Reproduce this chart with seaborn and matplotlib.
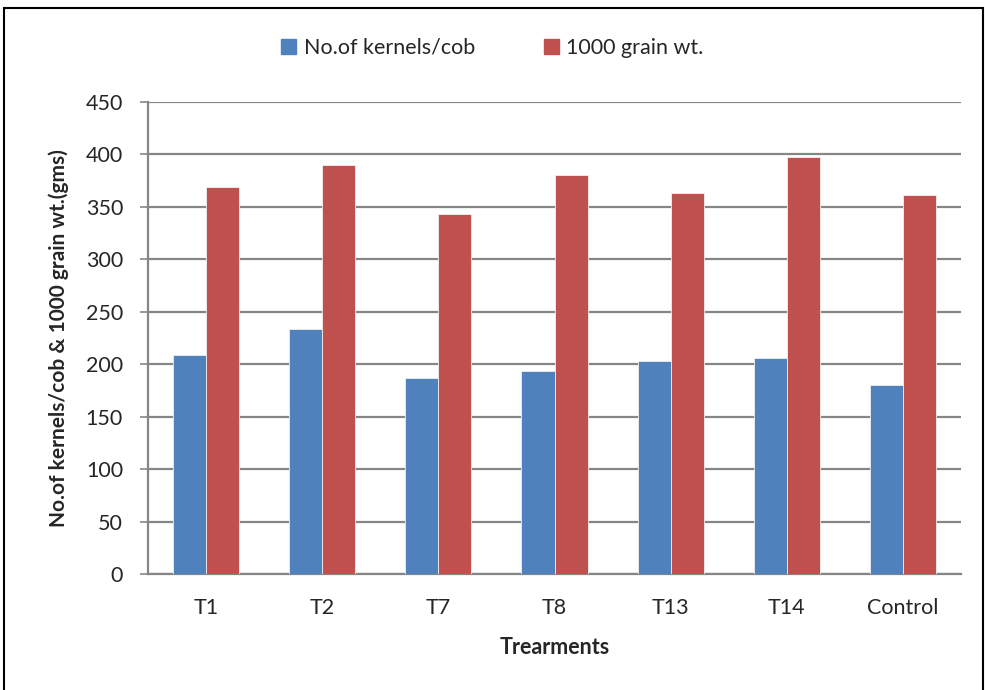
import matplotlib
matplotlib.use("Agg")
import matplotlib.pyplot as plt
import matplotlib.patches as mpatches
import pandas as pd
import seaborn as sns

treatments = ["T1", "T2", "T7", "T8", "T13", "T14", "Control"]
kernels_per_cob = [209, 234, 187, 194, 203, 206, 180]
grain_wt_1000 = [369, 390, 343, 380, 363, 398, 361]
series_names = ["No.of kernels/cob", "1000 grain wt."]
colors = ["#4F81BD", "#C0504D"]
y_ticks = [0, 50, 100, 150, 200, 250, 300, 350, 400, 450]

df = pd.DataFrame({
    "Treatment": treatments * 2,
    "Series": [series_names[0]] * len(treatments) + [series_names[1]] * len(treatments),
    "Value": kernels_per_cob + grain_wt_1000,
})

sns.set_theme(style="white")
plt.rcParams["font.family"] = ["Lato", "DejaVu Sans"]

fig = plt.figure(figsize=(9.85, 6.9), dpi=100)
ax = fig.add_axes([148 / 985, 1 - 574 / 690, (961 - 148) / 985, (574 - 102) / 690])

sns.barplot(data=df, x="Treatment", y="Value", hue="Series", order=treatments,
            hue_order=series_names, palette=colors, width=0.57, gap=0,
            edgecolor="#f0f0f0", linewidth=0.6, saturation=1, ax=ax, zorder=3)

ax.set_ylim(0, 450)
ax.set_xlim(-0.5, len(treatments) - 0.5)
ax.set_yticks(y_ticks)
ax.set_yticklabels([str(v) for v in y_ticks], fontsize=15.5)
ax.yaxis.grid(True, color="#868686", linewidth=1.6, zorder=0)
ax.set_axisbelow(True)

# category boundary ticks on the x axis
ax.set_xticks(range(len(treatments)))
ax.set_xticklabels(treatments, fontsize=15.5)
ax.tick_params(axis="x", length=0, pad=17)
ax.set_xticks([i - 0.5 for i in range(len(treatments) + 1)], minor=True)
ax.tick_params(axis="x", which="minor", length=8, width=1.2, color="#868686", direction="out")
ax.tick_params(axis="y", length=6, width=1.2, color="#868686", direction="out", pad=12, left=True)

for side in ["top", "right"]:
    ax.spines[side].set_visible(False)
for side in ["left", "bottom"]:
    ax.spines[side].set_color("#868686")
    ax.spines[side].set_linewidth(1.6)

ax.set_xlabel("Trearments", fontsize=15.5, fontweight="bold", labelpad=14)
ax.set_ylabel("No.of kernels/cob & 1000 grain wt.(gms)", fontsize=15, fontweight="bold", labelpad=12)

ax.legend_.remove()
handles = [mpatches.Patch(color=c, label=n) for c, n in zip(colors, series_names)]
fig.legend(handles=handles, loc="center", bbox_to_anchor=(0.5, 1 - 48 / 690), ncol=2,
           frameon=False, fontsize=15.5, handlelength=0.7, handleheight=0.7,
           handletextpad=0.35, columnspacing=3.2)

# outer frame of the chart area
frame = mpatches.Rectangle((4 / 985, -0.01), (983 - 4) / 985, 1 - 8 / 690 + 0.01,
                           transform=fig.transFigure, fill=False, edgecolor="black",
                           linewidth=1.5)
fig.patches.append(frame)

fig.savefig("out.png", dpi=100, facecolor="white")
